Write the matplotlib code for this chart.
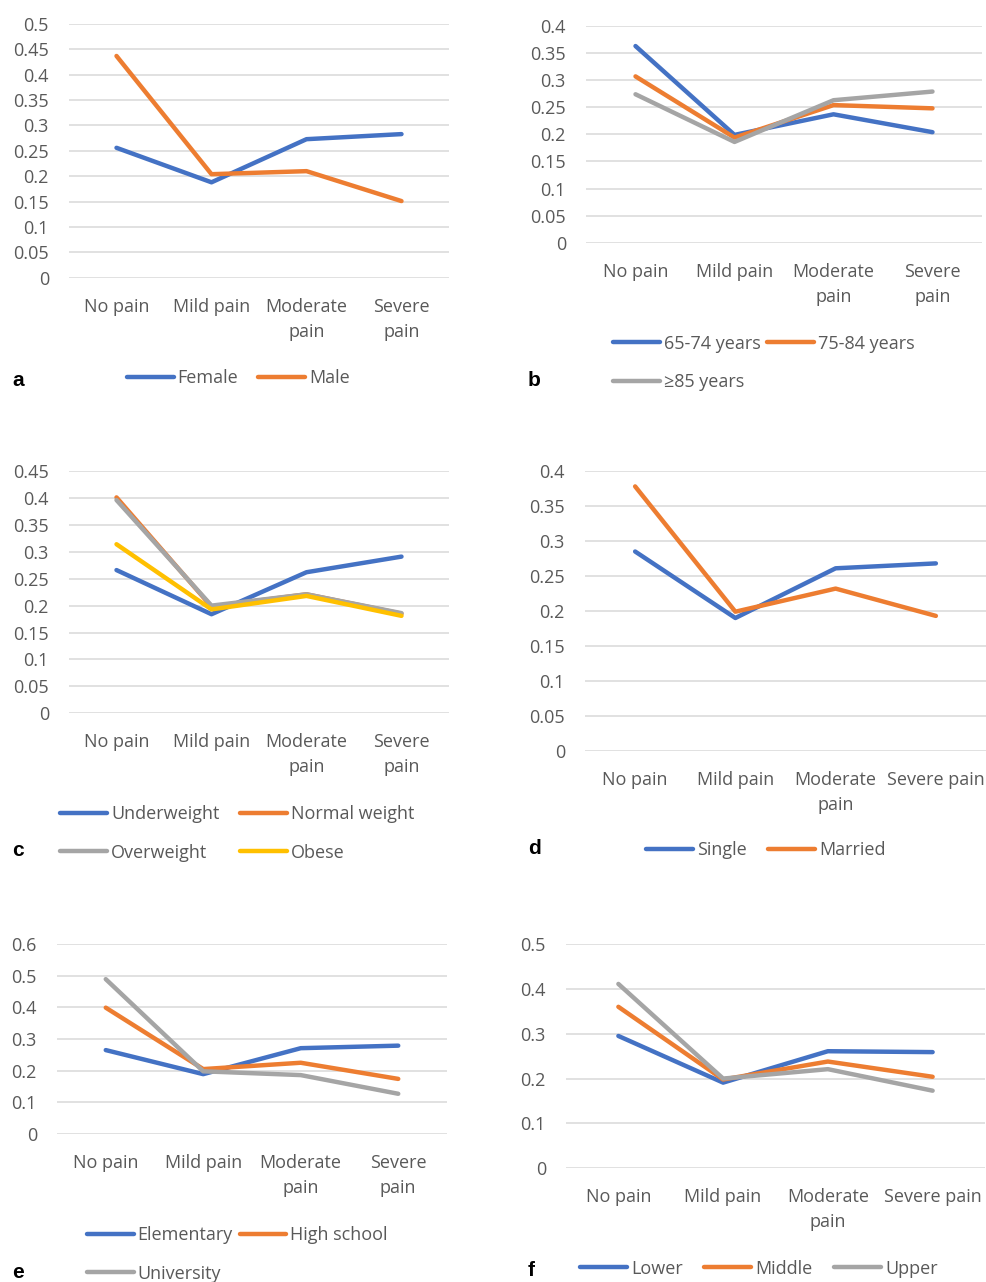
import numpy as np
import matplotlib
matplotlib.use("Agg")
import matplotlib.pyplot as plt
from matplotlib.lines import Line2D

plt.rcParams['font.family'] = ['Open Sans', 'DejaVu Sans']

# ---------------- data ----------------
cats4 = ["No pain", "Mild pain", "Moderate\npain", "Severe\npain"]
cats4_b = ["No pain", "Mild pain", "Moderate\npain", "Severe pain"]

# a: sex
a_labels = ["Female", "Male"]
a_female = [0.256, 0.188, 0.273, 0.283]
a_male = [0.437, 0.204, 0.210, 0.151]

# b: age
b_labels = ["65-74 years", "75-84 years", "\u226585 years"]
b_65_74 = [0.363, 0.199, 0.237, 0.204]
b_75_84 = [0.307, 0.194, 0.254, 0.248]
b_85 = [0.274, 0.186, 0.263, 0.279]

# c: BMI
c_labels = ["Underweight", "Normal weight", "Overweight", "Obese"]
c_under = [0.266, 0.184, 0.262, 0.291]
c_normal = [0.401, 0.198, 0.221, 0.185]
c_over = [0.396, 0.200, 0.221, 0.186]
c_obese = [0.314, 0.193, 0.218, 0.181]

# d: marital status
d_labels = ["Single", "Married"]
d_single = [0.285, 0.190, 0.261, 0.268]
d_married = [0.378, 0.199, 0.232, 0.193]

# e: education
e_labels = ["Elementary", "High school", "University"]
e_elem = [0.265, 0.189, 0.271, 0.279]
e_high = [0.399, 0.205, 0.225, 0.174]
e_univ = [0.489, 0.198, 0.186, 0.127]

# f: income
f_labels = ["Lower", "Middle", "Upper"]
f_lower = [0.295, 0.191, 0.261, 0.259]
f_middle = [0.360, 0.198, 0.238, 0.204]
f_upper = [0.411, 0.200, 0.221, 0.173]

BLUE, ORANGE, GRAY, YELLOW = "#4472C4", "#ED7D31", "#A5A5A5", "#FFC000"
TXT = "#595959"
GRID = "#D9D9D9"

W, H = 987, 1282
fig = plt.figure(figsize=(W / 100, H / 100), dpi=100)
FS = 13
LW = 3.2


def px_axes(x0, y0, x1, y1):
    return fig.add_axes([x0 / W, 1 - y1 / H, (x1 - x0) / W, (y1 - y0) / H])


def panel(box, ymax, step, cats, series, colors):
    ax = px_axes(*box)
    x = np.arange(len(cats))
    for vals, col in zip(series, colors):
        ax.plot(x, vals, color=col, lw=LW, solid_capstyle='round',
                solid_joinstyle='round', zorder=3)
    ax.set_xlim(-0.5, len(cats) - 0.5)
    ax.set_ylim(0, ymax)
    ticks = np.round(np.arange(0, ymax + step / 2, step), 4)
    ax.set_yticks(ticks)
    ax.set_yticklabels([f"{t:g}" for t in ticks])
    ax.set_xticks(x)
    ax.set_xticklabels(cats, linespacing=1.5)
    for s in ax.spines.values():
        s.set_visible(False)
    ax.grid(axis='y', color=GRID, lw=1.1, zorder=0)
    ax.tick_params(axis='y', length=0, pad=14.4, labelsize=FS, labelcolor=TXT)
    ax.tick_params(axis='x', length=0, pad=14.5, labelsize=FS, labelcolor=TXT)
    return ax


def legend(labels, colors, order, x, yc, ncol, colsp, labelsp=1.13):
    handles = [Line2D([], [], color=colors[i], lw=LW, solid_capstyle='round')
               for i in order]
    labs = [labels[i] for i in order]
    fig.legend(handles, labs, loc='center left',
               bbox_to_anchor=(x / W, 1 - yc / H), bbox_transform=fig.transFigure,
               ncol=ncol, frameon=False, borderpad=0, borderaxespad=0,
               handlelength=2.6, handletextpad=0.22, columnspacing=colsp,
               labelspacing=labelsp, fontsize=FS, labelcolor=TXT)


def letter(t, x, y):
    fig.text(x / W, 1 - y / H, t, fontsize=15, fontweight='bold',
             family=['Liberation Sans', 'DejaVu Sans'], va='center', ha='left')


# a
panel((69, 24, 449, 277.7), 0.5, 0.05, cats4, [a_female, a_male], [BLUE, ORANGE])
legend(a_labels, [BLUE, ORANGE], [0, 1], 126.7, 378, 2, 1.1)
letter("a", 12, 380)

# b
panel((586, 26, 982, 242.7), 0.4, 0.05, cats4, [b_65_74, b_75_84, b_85], [BLUE, ORANGE, GRAY])
legend(b_labels, [BLUE, ORANGE, GRAY], [0, 2, 1], 613, 363, 2, 0.35)
letter("b", 528, 380)

# c
panel((69, 471, 449, 713.3), 0.45, 0.05, cats4, [c_under, c_normal, c_over, c_obese],
      [BLUE, ORANGE, GRAY, YELLOW])
legend(c_labels, [BLUE, ORANGE, GRAY, YELLOW], [0, 2, 1, 3], 60, 833.5, 2, 1.15)
letter("c", 12, 850)

# d
panel((585, 471, 986, 751), 0.4, 0.05, cats4_b, [d_single, d_married], [BLUE, ORANGE])
legend(d_labels, [BLUE, ORANGE], [0, 1], 645.7, 850, 2, 1.2)
letter("d", 528, 848)

# e
panel((57, 944, 447, 1134), 0.6, 0.1, cats4, [e_elem, e_high, e_univ], [BLUE, ORANGE, GRAY])
legend(e_labels, [BLUE, ORANGE, GRAY], [0, 2, 1], 86.7, 1254.5, 2, 0.37)
letter("e", 12, 1272)

# f
panel((566, 944, 985, 1168.3), 0.5, 0.1, cats4_b, [f_lower, f_middle, f_upper], [BLUE, ORANGE, GRAY])
legend(f_labels, [BLUE, ORANGE, GRAY], [0, 1, 2], 580, 1268.5, 3, 1.2)
letter("f", 528, 1270)

fig.savefig("out.png", dpi=100, facecolor="white")
